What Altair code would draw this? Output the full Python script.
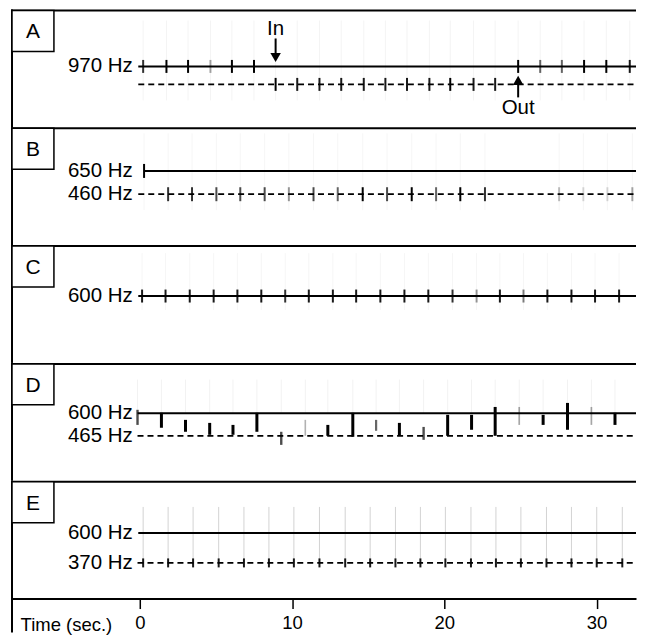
import altair as alt
import pandas as pd

FONT = "Liberation Sans"
W = 626          # plot width (px)
H = 118          # height of each panel (px)
T_DOMAIN = [-8.46, 32.59]   # seconds shown across the full width

# ---------------- data ----------------
letters = ["A", "B", "C", "D", "E"]

# frequency window (Hz) visible in each panel, bottom -> top
freq_window = {"A": [529.6, 1381.7], "B": [44.5, 1006.0], "C": [131.0, 957.0],
               "D": [197.2, 899.3], "E": [96.1, 1001.1]}

line_panel = ["A", "A", "B", "B", "C", "D", "D", "E", "E"]
line_label = ["970 Hz", "", "650 Hz", "460 Hz", "600 Hz", "600 Hz", "465 Hz", "600 Hz", "370 Hz"]
line_hz = [970, 840, 650, 460, 600, 600, 465, 600, 370]
line_style = ["solid", "dashed", "solid", "dashed", "solid", "solid", "dashed", "solid", "dashed"]
line_start = [-0.1, -0.1, 0.28, -0.1, -0.1, -0.15, -0.15, -0.1, -0.15]

# pulses sitting on a line: time (s) and strength (0-1)
a_solid_t = [0.22, 1.75, 3.17, 4.64, 6.05, 7.50, 24.85, 26.30, 27.72, 29.18, 30.64, 32.18]
a_solid_s = [0.8, 1.0, 1.0, 0.35, 1.0, 1.0, 1.0, 0.6, 0.6, 1.0, 1.0, 0.9]
a_dash_t = [8.92, 10.34, 11.80, 13.23, 14.71, 16.13, 17.55, 19.02, 20.39, 21.92, 23.34]
a_dash_s = [1.0, 0.9, 0.9, 0.9, 0.9, 0.9, 0.9, 0.9, 1.0, 0.9, 0.9]

b_solid_t = [0.28]
b_solid_s = [1.0]
b_dash_t = [1.86, 3.43, 5.03, 6.60, 8.20, 9.79, 11.41, 13.00, 14.64, 16.24, 17.86,
            19.46, 21.05, 22.67, 27.54, 29.13, 30.71, 32.35]
b_dash_s = [0.8, 0.8, 0.7, 0.7, 0.7, 0.4, 0.7, 0.6, 1.0, 0.7, 1.0,
            0.6, 1.0, 0.8, 0.25, 0.15, 0.15, 0.35]

c_t = [0.15, 1.69, 3.28, 4.85, 6.41, 7.98, 9.55, 11.10, 12.68, 14.21, 15.80,
       17.38, 18.95, 20.54, 22.12, 23.65, 25.20, 26.77, 28.35, 29.90, 31.48]
c_s = [0.9, 0.9, 0.9, 0.9, 0.9, 0.9, 0.8, 0.9, 0.9, 0.9, 0.9,
       0.9, 0.9, 0.8, 0.4, 0.9, 0.5, 0.9, 0.9, 0.9, 0.9]

e_t = [0.22, 1.86, 3.50, 5.18, 6.84, 8.48, 10.12, 11.80, 13.49, 15.13,
       16.79, 18.43, 20.07, 21.75, 23.39, 25.03, 26.71, 28.35, 30.01, 31.69]
e_s = [0.9] * 20

# panel D: pulses spanning frequencies (Hz)
d_t = [-0.15, 1.42, 3.00, 4.59, 6.12, 7.69, 9.29, 10.87, 12.35, 13.99, 15.52,
       17.05, 18.64, 20.22, 21.79, 23.34, 24.92, 26.49, 28.09, 29.66, 31.21]
d_lo = [530, 513, 489, 471, 471, 489, 411, 465, 465, 459, 495,
        465, 441, 465, 501, 465, 530, 530, 501, 530, 530]
d_hi = [620, 602, 560, 542, 530, 602, 489, 560, 530, 602, 560,
        542, 518, 590, 590, 637, 637, 590, 661, 637, 602]
d_s = [0.7, 1.0, 1.0, 1.0, 1.0, 1.0, 0.7, 0.3, 1.0, 1.0, 0.6,
       1.0, 0.7, 1.0, 1.0, 1.0, 0.35, 1.0, 1.0, 0.35, 1.0]

# faint spectral smear above/below pulses (Hz)
ghost_lo = {"A": 724, "B": 330, "C": 502, "D": 600, "E": 370}
ghost_hi = {"A": 1302, "B": 957, "C": 901, "D": 800, "E": 800}

# annotations in panel A
ann_label = ["In", "Out"]
ann_t = [8.92, 24.85]
ann_text_hz = [1241, 667]
ann_shaft_from = [1172, 746]
ann_shaft_to = [1060, 850]
ann_head_hz = [1035, 869]
ann_head_shape = ["triangle-down", "triangle-up"]

# time axis
time_ticks = [0, 10, 20, 30]

# ---------------- build tables ----------------
lines_df = pd.DataFrame({"panel": line_panel, "label": line_label, "hz": line_hz,
                         "style": line_style, "start": line_start})

pulse_rows = []
def add_pulses(panel, hz, ts, ss):
    for t, s in zip(ts, ss):
        pulse_rows.append({"panel": panel, "t": t, "hz": hz, "s": s})

add_pulses("A", 970, a_solid_t, a_solid_s)
add_pulses("A", 840, a_dash_t, a_dash_s)
add_pulses("B", 650, b_solid_t, b_solid_s)
add_pulses("B", 460, b_dash_t, b_dash_s)
add_pulses("C", 600, c_t, c_s)
add_pulses("E", 370, e_t, e_s)
pulses_df = pd.DataFrame(pulse_rows)

d_df = pd.DataFrame({"t": d_t, "lo": d_lo, "hi": d_hi, "s": d_s})

ann_df = pd.DataFrame({"label": ann_label, "t": ann_t, "text_hz": ann_text_hz,
                       "f0": ann_shaft_from, "f1": ann_shaft_to,
                       "head": ann_head_hz, "shape": ann_head_shape})

tick_size = {"A": 13, "B": 14, "C": 13, "E": 9}
ghost_op = {"A": 0.05, "B": 0.045, "C": 0.045, "D": 0.06, "E": 0.18}


def panel(letter):
    last = letter == "E"
    if last:
        axis = alt.Axis(values=time_ticks, grid=False, domainColor="black", domainWidth=2,
                        tickColor="black", tickWidth=1.5, tickSize=10, labelFont=FONT,
                        labelFontSize=18.5, labelColor="black", labelPadding=5,
                        labelFlush=False, format="d",
                        title="Time (sec.)", titleFont=FONT, titleFontSize=18.5,
                        titleFontWeight="normal", titleColor="black",
                        titleX=55, titleY=26, titleAlign="center", titleBaseline="middle",
                        titleAngle=0)
    else:
        axis = None
    xs = alt.Scale(domain=T_DOMAIN, nice=False, zero=False)
    ys = alt.Scale(domain=freq_window[letter], nice=False, zero=False)

    def X(f):
        return alt.X(f, type="quantitative", scale=xs, axis=axis,
                     title="Time (sec.)" if last else None)

    def Y(f):
        return alt.Y(f, type="quantitative", scale=ys, axis=None)

    layers = []
    pl = pulses_df[pulses_df.panel == letter]
    ltab = lines_df[lines_df.panel == letter]

    # faint smear
    if letter == "D":
        gsrc = d_df.assign(glo=ghost_lo[letter], ghi=ghost_hi[letter])
    else:
        gsrc = pl.assign(glo=ghost_lo[letter], ghi=ghost_hi[letter])
    layers.append(alt.Chart(gsrc).mark_rule(color="black", strokeWidth=1,
                                            opacity=ghost_op[letter]).encode(
        x=X("t"), y=Y("glo"), y2="ghi"))

    # horizontal frequency lines
    sol = ltab[ltab["style"] == "solid"]
    das = ltab[ltab["style"] == "dashed"]
    if len(sol):
        layers.append(alt.Chart(sol).mark_rule(color="black", strokeWidth=2).encode(
            x=X("start"), x2=alt.value(W), y=Y("hz")))
    if len(das):
        layers.append(alt.Chart(das).mark_rule(color="black", strokeWidth=1.8,
                                               strokeDash=[6, 4]).encode(
            x=X("start"), x2=alt.value(W), y=Y("hz")))

    # pulses
    if letter == "D":
        layers.append(alt.Chart(d_df).mark_rule(color="black").encode(
            x=X("t"), y=Y("lo"), y2="hi",
            opacity=alt.Opacity("s:Q", scale=None, legend=None),
            strokeWidth=alt.StrokeWidth("s:Q", scale=alt.Scale(domain=[0, 1], range=[1, 3]),
                                        legend=None)))
    else:
        layers.append(alt.Chart(pl).mark_tick(color="black", orient="vertical",
                                              thickness=2, size=tick_size[letter]).encode(
            x=X("t"), y=Y("hz"),
            opacity=alt.Opacity("s:Q", scale=None, legend=None)))

    # frequency labels
    lab = ltab[ltab["label"] != ""]
    layers.append(alt.Chart(lab).mark_text(align="right", baseline="middle", font=FONT,
                                           fontSize=20.5, color="black").encode(
        x=alt.value(122), y=Y("hz"), text="label:N"))

    # In / Out arrows
    if letter == "A":
        layers.append(alt.Chart(ann_df).mark_text(font=FONT, fontSize=20.5, color="black",
                                                  baseline="middle").encode(
            x=X("t"), y=Y("text_hz"), text="label:N"))
        layers.append(alt.Chart(ann_df).mark_rule(color="black", strokeWidth=2).encode(
            x=X("t"), y=Y("f0"), y2="f1"))
        layers.append(alt.Chart(ann_df).mark_point(filled=True, color="black", opacity=1,
                                                   size=110).encode(
            x=X("t"), y=Y("head"),
            shape=alt.Shape("shape:N", scale=None, legend=None)))

    # panel frame: top and left edges, letter box
    one = pd.DataFrame({"letter": [letter]})
    layers.append(alt.Chart(one).mark_rule(color="black", strokeWidth=2).encode(
        x=alt.value(0), x2=alt.value(W), y=alt.value(1)))
    layers.append(alt.Chart(one).mark_rule(color="black", strokeWidth=2).encode(
        x=alt.value(1), y=alt.value(0), y2=alt.value(H + (34 if last else 0))))
    layers.append(alt.Chart(one).mark_rect(fill="white", stroke="black",
                                           strokeWidth=1.5).encode(
        x=alt.value(1), x2=alt.value(43), y=alt.value(1), y2=alt.value(42)))
    layers.append(alt.Chart(one).mark_text(font=FONT, fontSize=21, color="black",
                                           baseline="middle", align="center").encode(
        x=alt.value(22), y=alt.value(23), text="letter:N"))

    return alt.layer(*layers).properties(width=W, height=H)


chart = alt.vconcat(*[panel(l) for l in letters], spacing=0, bounds="flush").properties(
    padding={"left": 2, "top": 0, "right": 0, "bottom": 0},
    background="white",
).configure_view(stroke=None)

chart.save("out.html", embed_options={"renderer": "svg", "actions": False})
